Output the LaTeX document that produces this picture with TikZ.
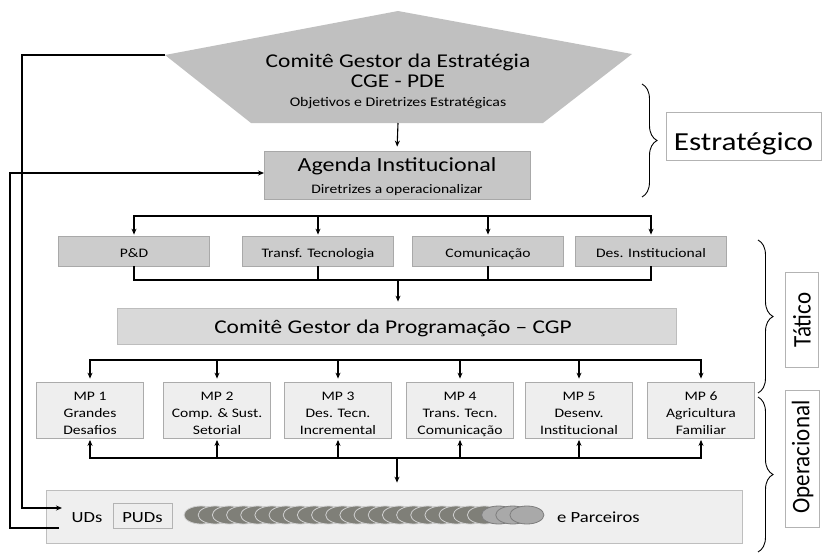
\documentclass[tikz,border=0pt]{standalone}
\usepackage{fontspec}
\setmainfont{Carlito}[FakeStretch=1.2]
\newfontfamily\plainfont{Carlito}
\usetikzlibrary{arrows.meta,decorations.pathreplacing}
\definecolor{pentfill}{HTML}{C0C0C0}
\definecolor{agfill}{HTML}{C6C6C6}
\definecolor{agdraw}{HTML}{A8A8A8}
\definecolor{ltfill}{HTML}{CCCCCC}
\definecolor{ltdraw}{HTML}{A9A9A9}
\definecolor{cgpfill}{HTML}{D9D9D9}
\definecolor{cgpdraw}{HTML}{BDBDBD}
\definecolor{mpfill}{HTML}{EEEEEE}
\definecolor{mpdraw}{HTML}{ABABAB}
\definecolor{udfill}{HTML}{EFEFEF}
\definecolor{uddraw}{HTML}{BEBEBE}
\definecolor{lbldraw}{HTML}{B3B3B3}
\definecolor{elldark}{HTML}{7F7F78}
\definecolor{ellrim}{HTML}{D0D0D0}
\definecolor{elllight}{HTML}{A9A9A9}
\definecolor{elledge}{HTML}{7D7D7D}
\newcommand\fsz[1]{\fontsize{#1}{#1}\selectfont}
\begin{document}
\begin{tikzpicture}[x=1pt,y=-1pt,
  conn/.style={line width=1.1pt, black},
  arr/.style={conn, -{Stealth[length=6pt,width=5pt]}},
  arrboth/.style={conn, {Stealth[length=6pt,width=5pt]}-{Stealth[length=6pt,width=5pt]}},
  txt/.style={inner sep=0pt, anchor=base},
  agbox/.style={draw=agdraw, fill=agfill, line width=0.8pt, inner sep=0pt},
  ltbox/.style={draw=ltdraw, fill=ltfill, line width=0.8pt, inner sep=0pt, minimum width=151pt, minimum height=30pt},
  cgpbox/.style={draw=cgpdraw, fill=cgpfill, line width=0.8pt, inner sep=0pt},
  mpbox/.style={draw=mpdraw, fill=mpfill, line width=0.8pt, inner sep=0pt, minimum width=107pt, minimum height=56pt},
  udbox/.style={draw=uddraw, fill=udfill, line width=0.8pt, inner sep=0pt},
  lblbox/.style={draw=lbldraw, fill=white, line width=0.8pt, inner sep=0pt},
  bracestyle/.style={decorate, decoration={brace, amplitude=15pt}, line width=0.9pt},
  darkell/.style={draw=ellrim, fill=elldark, line width=0.8pt},
  lightell/.style={draw=elledge, fill=elllight, line width=0.8pt}]
\useasboundingbox (0,0) rectangle (824,554);

% ---- CGE pentagon
\coordinate (cgeT) at (398,11);
\coordinate (cgeR) at (632,54);
\coordinate (cgeBR) at (543,123);
\coordinate (cgeBL) at (251,123);
\coordinate (cgeL) at (165,55);
\coordinate (cgeB) at (398,123);
\fill[pentfill] (cgeT) -- (cgeR) -- (cgeBR) -- (cgeBL) -- (cgeL) -- cycle;
\node[txt, font=\fsz{19.5}] (cge1) at (398,67) {Comitê Gestor da Estratégia};
\node[txt, font=\fsz{19.5}] (cge2) at (398,87) {CGE - PDE};
\node[txt, font=\fsz{13.2}] (cge3) at (398,106) {Objetivos e Diretrizes Estratégicas};

% ---- Agenda
\node[agbox, minimum width=266pt, minimum height=48pt] (ag) at (397,175) {};
\node[txt, font=\fsz{20}] (ag1) at (397,171) {Agenda Institucional};
\node[txt, font=\fsz{13}] (ag2) at (397,193) {Diretrizes a operacionalizar};
\draw[arr, shorten >=4pt] (cgeB) -- (ag.north);

% ---- level 2
\node[ltbox] (pd) at (134,251) {};
\node[ltbox] (tt) at (318,251) {};
\node[ltbox] (co) at (488,251) {};
\node[ltbox] (di) at (651,251) {};
\node[txt, font=\fsz{13}] at (134,257) {P\&D};
\node[txt, font=\fsz{13}] at (318,257) {Transf. Tecnologia};
\node[txt, font=\fsz{13}] at (488,257) {Comunicação};
\node[txt, font=\fsz{13}] at (651,257) {Des. Institucional};

\coordinate (bus1) at (398,216);
\coordinate (bus2) at (398,280);
\draw[arrboth, shorten <=1pt, shorten >=1pt] (pd.north) -- (pd.north |- bus1) -- (di.north |- bus1) -- (di.north);
\draw[arr, shorten >=1pt] (tt.north |- bus1) -- (tt.north);
\draw[arr, shorten >=1pt] (co.north |- bus1) -- (co.north);
\draw[conn] (pd.south) -- (pd.south |- bus2) -- (di.south |- bus2) -- (di.south);
\draw[conn] (tt.south) -- (tt.south |- bus2);
\draw[conn] (co.south) -- (co.south |- bus2);

% ---- CGP
\node[cgpbox, minimum width=559pt, minimum height=36pt] (cgp) at (396.5,326) {};
\node[txt, font=\fsz{19.5}] (cgpt) at (393,333) {Comitê Gestor da Programação – CGP};
\draw[arr, shorten >=6pt] (bus2) -- (bus2 |- cgp.north);

% ---- MP boxes
\node[mpbox] (mp1) at (90,410) {};
\node[mpbox] (mp2) at (217,410) {};
\node[mpbox] (mp3) at (338,410) {};
\node[mpbox] (mp4) at (460,410) {};
\node[mpbox] (mp5) at (579,410) {};
\node[mpbox] (mp6) at (701,410) {};
\foreach \n/\a/\b/\c in {mp1/MP 1/Grandes/Desafios, mp2/MP 2/Comp. \& Sust./Setorial,
  mp3/MP 3/Des. Tecn./Incremental, mp4/MP 4/Trans. Tecn./Comunicação,
  mp5/MP 5/Desenv./Institucional, mp6/MP 6/Agricultura/Familiar}{
  \node[txt, font=\fsz{13}] at (\n.center |- 0,400) {\a};
  \node[txt, font=\fsz{13}] at (\n.center |- 0,417) {\b};
  \node[txt, font=\fsz{13}] at (\n.center |- 0,434) {\c};
}

\coordinate (bus3) at (398,360);
\coordinate (bus4) at (397,458);
\draw[arrboth, shorten <=3pt, shorten >=3pt] (mp1.north) -- (mp1.north |- bus3) -- (mp6.north |- bus3) -- (mp6.north);
\foreach \n in {mp2,mp3,mp4,mp5}{
  \draw[arr, shorten >=3pt] (\n.north |- bus3) -- (\n.north);
}
\draw[arrboth, shorten <=1.5pt, shorten >=1.5pt] (mp1.south) -- (mp1.south |- bus4) -- (mp6.south |- bus4) -- (mp6.south);
\foreach \n in {mp2,mp3,mp4,mp5}{
  \draw[arr, shorten >=1.5pt] (\n.south |- bus4) -- (\n.south);
}

% ---- UD box
\node[udbox, minimum width=696pt, minimum height=53pt] (ud) at (394,516.5) {};
\draw[arr, shorten >=7pt] (bus4) -- (bus4 |- ud.north);
\node[txt, font=\fsz{15.5}] (uds) at (87,522) {UDs};
\node[draw=lbldraw, fill=mpfill, line width=0.8pt, inner sep=0pt, minimum width=59pt, minimum height=25pt] (pudbox) at (142.5,515.5) {};
\node[txt, font=\fsz{15.5}] (puds) at (142.5,522) {PUDs};
\foreach \i in {0,...,20}{
  \draw[darkell] ({201+14.17*\i},515) ellipse [x radius=17pt, y radius=9pt];
}
\foreach \i in {21,22,23}{
  \draw[lightell] ({201+14.17*\i},515) ellipse [x radius=17pt, y radius=9pt];
}
\node[txt, font=\fsz{15.5}, anchor=base west] (parc) at (557,522) {e Parceiros};

% ---- feedback lines
\coordinate (fa) at (22,0);
\coordinate (fb) at (10,0);
\coordinate (udIn) at (62,508);
\coordinate (udOut) at (59,528);
\coordinate (agIn) at (264,173);
\draw[arr] (cgeL) -- (cgeL -| fa) -- (fa |- udIn) -- (udIn);
\draw[arr] (udOut) -- (udOut -| fb) -- (fb |- agIn) -- (agIn);

% ---- braces and level labels
\draw[bracestyle] (642,84) -- (642,197);
\draw[bracestyle] (758,240) -- (758,393);
\draw[bracestyle] (758,397) -- (758,552);
\node[lblbox, minimum width=155pt, minimum height=48pt] (estbox) at (743.5,136) {};
\node[txt, font=\fsz{26}] (est) at (743.5,150) {Estratégico};
\node[lblbox, minimum width=33pt, minimum height=95pt] (tatbox) at (801.5,319.5) {};
\node[inner sep=0pt, rotate=90, font=\plainfont\fsz{23}] (tat) at (802,320) {\scalebox{1}[1.1]{Tático}};
\node[lblbox, minimum width=34pt, minimum height=137pt] (opbox) at (802,458.5) {};
\node[inner sep=0pt, rotate=90, font=\plainfont\fsz{23}] (op) at (802.5,457) {\scalebox{1}[1.1]{Operacional}};
\end{tikzpicture}
\end{document}
